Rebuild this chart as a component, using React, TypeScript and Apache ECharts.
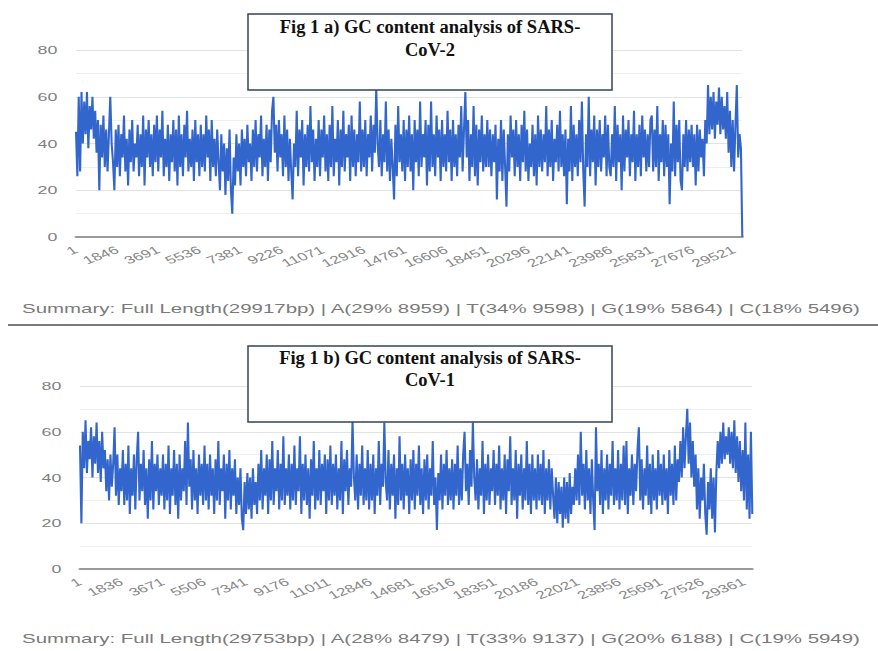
import React, { useEffect, useRef } from 'react';
import * as echarts from 'echarts';

// horizontal stretch of the original screenshot (chart part only)
const S = 1.55;
const CW = 878 / S;

const xTicksA = [1, 1846, 3691, 5536, 7381, 9226, 11071, 12916, 14761, 16606, 18451, 20296, 22141, 23986, 25831, 27676, 29521];
const xTicksB = [1, 1836, 3671, 5506, 7341, 9176, 11011, 12846, 14681, 16516, 18351, 20186, 22021, 23856, 25691, 27526, 29361];
const yTicks = [0, 20, 40, 60, 80];
const perTick = 30;

// SARS-CoV-2 GC content (%), one row per x tick interval
const gcA = [
  45, 26, 60, 28, 62, 40, 58, 44, 62, 38, 56, 46, 60, 42, 54, 36, 50, 20, 48, 34, 52, 30, 46, 28, 44, 60, 40, 32, 20, 46,
  30, 48, 26, 44, 34, 52, 28, 42, 22, 46, 32, 50, 28, 40, 34, 48, 26, 44, 30, 52, 22, 46, 34, 50, 30, 44, 26, 48, 32, 52,
  28, 46, 34, 54, 26, 42, 30, 48, 24, 44, 32, 50, 28, 46, 22, 52, 30, 44, 26, 48, 34, 54, 28, 42, 30, 46, 24, 50, 32, 44,
  26, 48, 30, 44, 28, 52, 34, 46, 24, 50, 30, 42, 26, 46, 32, 20, 44, 28, 40, 18, 38, 24, 46, 20, 10, 34, 22, 44, 28, 40,
  22, 46, 30, 42, 26, 48, 32, 40, 24, 46, 30, 50, 28, 44, 34, 52, 26, 42, 30, 48, 24, 46, 32, 54, 60, 36, 48, 28, 50, 34,
  44, 26, 52, 30, 46, 24, 42, 28, 16, 40, 30, 54, 26, 46, 34, 50, 22, 44, 30, 48, 28, 56, 32, 46, 24, 42, 30, 50, 26, 46,
  34, 52, 28, 44, 24, 48, 30, 56, 26, 42, 32, 50, 22, 46, 30, 54, 28, 44, 34, 48, 24, 52, 30, 46, 26, 44, 32, 58, 28, 46,
  30, 50, 26, 44, 34, 52, 28, 48, 36, 64, 40, 30, 50, 26, 44, 32, 58, 28, 46, 24, 42, 30, 16, 48, 26, 56, 32, 44, 28, 50,
  24, 46, 30, 52, 28, 44, 20, 50, 32, 46, 26, 58, 30, 44, 34, 50, 22, 48, 28, 58, 30, 44, 26, 52, 34, 46, 24, 50, 30, 44,
  28, 54, 32, 46, 24, 50, 30, 44, 26, 48, 34, 56, 28, 46, 62, 34, 50, 24, 44, 30, 56, 26, 48, 22, 46, 32, 52, 28, 44, 30,
  50, 30, 46, 26, 44, 32, 48, 16, 42, 28, 50, 24, 46, 30, 13, 44, 28, 52, 34, 46, 26, 50, 30, 44, 24, 48, 32, 54, 28, 46,
  24, 40, 30, 48, 26, 44, 22, 52, 30, 46, 28, 44, 32, 56, 26, 46, 30, 50, 24, 42, 32, 48, 28, 54, 30, 44, 26, 46, 14, 42,
  28, 56, 24, 48, 30, 44, 26, 50, 32, 58, 28, 13, 44, 30, 60, 26, 46, 32, 52, 22, 46, 30, 50, 28, 44, 34, 52, 26, 48, 30,
  26, 44, 30, 56, 24, 48, 32, 44, 20, 52, 28, 46, 34, 50, 26, 44, 32, 54, 24, 44, 30, 48, 26, 52, 34, 46, 28, 44, 30, 50,
  52, 28, 46, 30, 56, 24, 44, 32, 50, 26, 48, 30, 44, 14, 40, 28, 58, 26, 48, 32, 50, 24, 20, 44, 30, 50, 28, 46, 32, 48,
  30, 44, 22, 48, 28, 46, 34, 42, 26, 50, 40, 65, 44, 60, 46, 62, 42, 58, 48, 64, 44, 60, 46, 56, 42, 62, 36, 54, 30, 50,
  28, 48, 65, 34, 44, 38, 0,
];

// SARS-CoV-1 GC content (%), one row per x tick interval
const gcB = [
  54, 20, 60, 44, 65, 42, 56, 48, 62, 40, 58, 46, 64, 42, 56, 38, 60, 44, 52, 34, 48, 30, 50, 36, 46, 62, 32, 50, 28, 44,
  34, 52, 28, 46, 30, 54, 24, 44, 32, 50, 26, 48, 60, 30, 46, 34, 52, 28, 44, 22, 48, 30, 56, 26, 46, 34, 50, 28, 44, 32,
  50, 26, 46, 30, 54, 24, 44, 32, 52, 28, 46, 22, 50, 30, 44, 34, 56, 28, 64, 36, 48, 26, 52, 30, 44, 24, 50, 32, 46, 28,
  54, 30, 46, 26, 50, 32, 44, 24, 48, 30, 56, 28, 44, 34, 50, 22, 46, 30, 52, 26, 44, 32, 48, 24, 40, 28, 44, 22, 17, 38,
  24, 42, 26, 40, 22, 44, 28, 38, 24, 46, 30, 52, 26, 44, 32, 50, 24, 48, 30, 56, 28, 44, 34, 52, 26, 46, 30, 58, 28, 44,
  32, 50, 26, 46, 30, 54, 28, 44, 34, 58, 24, 46, 30, 50, 28, 44, 22, 48, 32, 56, 26, 44, 30, 52, 28, 46, 34, 50, 24, 48,
  30, 54, 28, 46, 32, 50, 26, 44, 30, 56, 24, 48, 34, 52, 28, 44, 36, 65, 40, 30, 50, 26, 46, 32, 54, 28, 44, 30, 52, 26,
  46, 30, 50, 24, 44, 32, 56, 28, 46, 36, 64, 38, 30, 52, 26, 46, 32, 50, 22, 44, 28, 58, 30, 46, 26, 50, 32, 44, 24, 48,
  30, 52, 26, 46, 32, 54, 28, 44, 24, 48, 30, 50, 26, 44, 32, 56, 28, 40, 17, 42, 30, 50, 26, 46, 32, 52, 28, 44, 30, 48,
  26, 46, 32, 54, 28, 44, 30, 50, 60, 34, 46, 28, 52, 36, 64, 40, 30, 48, 26, 44, 32, 56, 24, 46, 30, 50, 28, 44, 34, 52,
  28, 46, 32, 54, 26, 44, 30, 50, 24, 48, 34, 58, 28, 44, 30, 52, 22, 46, 32, 50, 26, 44, 30, 56, 28, 46, 24, 50, 30, 44,
  26, 50, 30, 46, 28, 52, 24, 44, 30, 48, 26, 44, 32, 22, 40, 20, 38, 24, 36, 18, 40, 22, 38, 20, 42, 24, 36, 28, 44, 30,
  50, 28, 60, 32, 46, 26, 52, 30, 44, 24, 48, 30, 17, 62, 34, 46, 28, 52, 24, 44, 30, 50, 26, 46, 32, 56, 28, 44, 30, 52,
  26, 46, 30, 54, 28, 56, 24, 44, 32, 50, 28, 46, 34, 52, 62, 30, 48, 26, 44, 32, 54, 28, 46, 24, 50, 30, 44, 26, 52, 32,
  46, 28, 50, 30, 44, 24, 52, 32, 46, 28, 54, 30, 48, 38, 56, 40, 62, 44, 58, 70, 46, 64, 40, 56, 36, 50, 26, 44, 22, 40,
  30, 46, 24, 15, 38, 26, 44, 22, 40, 16, 42, 56, 44, 60, 46, 64, 48, 58, 50, 62, 46, 60, 44, 65, 42, 58, 38, 56, 34, 52,
  30, 64, 26, 50, 22, 60, 24,
];

const summaryA = 'Summary: Full Length(29917bp) | A(29% 8959) | T(34% 9598) | G(19% 5864) | C(18% 5496)';
const summaryB = 'Summary: Full Length(29753bp) | A(28% 8479) | T(33% 9137) | G(20% 6188) | C(19% 5949)';
const titleA = ['Fig 1 a) GC content analysis of SARS-', 'CoV-2'];
const titleB = ['Fig 1 b) GC content analysis of SARS-', 'CoV-1'];

const cats = (ticks: number[], n: number) => {
  const step = (ticks[1] - ticks[0]) / perTick;
  return Array.from({ length: n }, (_, i) => String(1 + Math.round(i * step)));
};

const LABEL_FONT = 'Liberation Sans, Arial, sans-serif';

const makeX = (gridIndex: number, data: string[], ticks: number[]) => ({
  type: 'category',
  gridIndex,
  data,
  boundaryGap: false,
  axisLine: { show: true, onZero: false, lineStyle: { color: '#9a9a9a', width: 2 } },
  axisTick: { show: false },
  splitLine: { show: false },
  axisLabel: {
    interval: perTick - 1,
    rotate: 30,
    margin: 12,
    fontSize: 11,
    color: '#868686',
    fontFamily: LABEL_FONT,
    formatter: (_v: string, idx: number) => (idx % perTick === 0 ? String(ticks[idx / perTick]) : ''),
  },
});

const makeY = (gridIndex: number) => ({
  type: 'value',
  gridIndex,
  min: 0,
  max: 80,
  interval: 20,
  axisLine: { show: false },
  axisTick: { show: false },
  axisLabel: {
    fontSize: 11.5,
    color: '#808080',
    margin: 12,
    fontFamily: LABEL_FONT,
    formatter: (v: number) => (yTicks.includes(v) ? String(v) : ''),
  },
  splitLine: { show: true, lineStyle: { color: '#e3e3e3', width: 1 } },
  minorTick: { show: false, splitNumber: 2 },
  minorSplitLine: { show: true, lineStyle: { color: '#efefef', width: 1 } },
});

const lineSeries = (idx: number, data: number[]) => ({
  type: 'line',
  xAxisIndex: idx,
  yAxisIndex: idx,
  data,
  showSymbol: false,
  symbol: 'none',
  silent: true,
  lineStyle: { color: '#3366cc', width: 1.35 },
  emphasis: { disabled: true },
});

const summaryText = (text: string, y: number) => ({
  type: 'text',
  x: 22 / S,
  y,
  style: {
    text,
    fontSize: 13.2,
    fill: '#7a7a7a',
    fontFamily: LABEL_FONT,
    verticalAlign: 'middle',
  },
});

const titleLine = (text: string, y: number) => ({
  type: 'text',
  x: 430,
  y,
  z: 11,
  style: {
    text,
    fontSize: 18.5,
    fontWeight: 'bold',
    fontFamily: 'Liberation Serif, Times New Roman, serif',
    fill: '#111',
    align: 'center',
    verticalAlign: 'middle',
  },
});

const titleBox = (lines: string[], top: number, l1: number, l2: number) => [
  {
    type: 'rect',
    shape: { x: 248, y: top, width: 364, height: 76 },
    style: { fill: '#ffffff', stroke: '#37425c', lineWidth: 1.5 },
    z: 10,
  },
  titleLine(lines[0], l1),
  titleLine(lines[1], l2),
];

export default function App() {
  const chartRef = useRef<HTMLDivElement>(null);
  const overlayRef = useRef<HTMLDivElement>(null);

  useEffect(() => {
    if (!chartRef.current || !overlayRef.current) return;
    const chart = echarts.init(chartRef.current, undefined, { renderer: 'svg' });
    const overlay = echarts.init(overlayRef.current, undefined, { renderer: 'svg' });

    chart.setOption({
      animation: false,
      backgroundColor: '#ffffff',
      grid: [
        { left: 76 / S, right: (878 - 743) / S, top: 50, height: 187, containLabel: false },
        { left: 80 / S, right: (878 - 753) / S, top: 386, height: 183, containLabel: false },
      ],
      xAxis: [makeX(0, cats(xTicksA, gcA.length), xTicksA), makeX(1, cats(xTicksB, gcB.length), xTicksB)],
      yAxis: [makeY(0), makeY(1)],
      series: [lineSeries(0, gcA), lineSeries(1, gcB)],
      graphic: [summaryText(summaryA, 308), summaryText(summaryB, 638)],
    });

    overlay.setOption({
      animation: false,
      graphic: [
        {
          type: 'line',
          shape: { x1: 8, y1: 325, x2: 878, y2: 325 },
          style: { stroke: '#7a7a7a', lineWidth: 2 },
        },
        ...titleBox(titleA, 14, 27, 50),
        ...titleBox(titleB, 346, 358, 380),
      ],
    });

    return () => {
      chart.dispose();
      overlay.dispose();
    };
  }, []);

  return (
    <div style={{ position: 'fixed', left: 0, top: 0, width: 878, height: 651, overflow: 'hidden', background: '#fff' }}>
      <div
        ref={chartRef}
        style={{
          position: 'absolute',
          left: 0,
          top: 0,
          width: CW,
          height: 651,
          transform: `scaleX(${S})`,
          transformOrigin: '0 0',
        }}
      />
      <div ref={overlayRef} style={{ position: 'absolute', left: 0, top: 0, width: 878, height: 651 }} />
    </div>
  );
}
